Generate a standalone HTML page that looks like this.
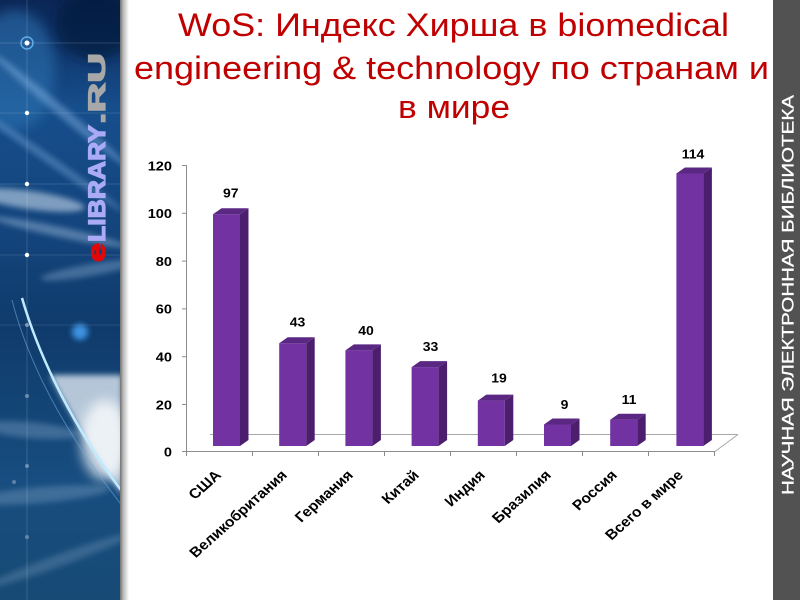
<!DOCTYPE html>
<html>
<head>
<meta charset="utf-8">
<style>
  html,body{margin:0;padding:0;background:#fff;}
  body{width:800px;height:600px;overflow:hidden;}
  svg{display:block;}
  text{font-family:"Liberation Sans","Noto Sans CJK SC",sans-serif;}
</style>
</head>
<body>
<svg width="800" height="600" viewBox="0 0 800 600" xmlns="http://www.w3.org/2000/svg">
  <defs>
    <linearGradient id="bg" x1="0" y1="0" x2="0" y2="1">
      <stop offset="0" stop-color="#0b2656"/>
      <stop offset="0.18" stop-color="#164e8c"/>
      <stop offset="0.35" stop-color="#14467f"/>
      <stop offset="0.55" stop-color="#0f3b6c"/>
      <stop offset="0.8" stop-color="#174d80"/>
      <stop offset="1" stop-color="#174a74"/>
    </linearGradient>
    <linearGradient id="shadow" x1="0" y1="0" x2="1" y2="0">
      <stop offset="0" stop-color="#707070"/>
      <stop offset="0.35" stop-color="#b8b8b8"/>
      <stop offset="1" stop-color="#ffffff"/>
    </linearGradient>
    <filter id="blur6" x="-50%" y="-50%" width="200%" height="200%"><feGaussianBlur stdDeviation="6"/></filter>
    <filter id="blur3" x="-50%" y="-50%" width="200%" height="200%"><feGaussianBlur stdDeviation="3"/></filter>
    <clipPath id="panel"><rect x="0" y="0" width="120" height="600"/></clipPath>
  </defs>

  <!-- Left decorative panel -->
  <g clip-path="url(#panel)">
    <rect x="0" y="0" width="120" height="600" fill="url(#bg)"/>
    <ellipse cx="15" cy="70" rx="40" ry="60" fill="#2f74b4" opacity="0.55" filter="url(#blur6)"/>
    <ellipse cx="95" cy="25" rx="40" ry="35" fill="#061634" opacity="0.6" filter="url(#blur6)"/>
    <ellipse cx="60" cy="110" rx="90" ry="5" fill="#a8d4ff" opacity="0.35" transform="rotate(40 60 110)" filter="url(#blur3)"/>
    <ellipse cx="50" cy="160" rx="90" ry="4" fill="#a8d4ff" opacity="0.3" transform="rotate(35 50 160)" filter="url(#blur3)"/>
    <ellipse cx="30" cy="200" rx="55" ry="9" fill="#e8f4ff" opacity="0.5" transform="rotate(8 30 200)" filter="url(#blur3)"/>
    <ellipse cx="60" cy="232" rx="70" ry="5" fill="#cfe6ff" opacity="0.35" transform="rotate(12 60 232)" filter="url(#blur3)"/>
    <ellipse cx="90" cy="270" rx="50" ry="6" fill="#b8d8f5" opacity="0.3" transform="rotate(-10 90 270)" filter="url(#blur3)"/>
    <circle cx="80" cy="332" r="8" fill="#4aa8ff" opacity="0.8" filter="url(#blur3)"/>
    <path d="M 50 375 C 72 418, 95 455, 122 495 L 122 375 Z" fill="#d2deea" opacity="0.85" filter="url(#blur3)"/>
    <ellipse cx="105" cy="440" rx="24" ry="40" fill="#ffffff" opacity="0.75" filter="url(#blur6)"/>
    <ellipse cx="30" cy="430" rx="50" ry="8" fill="#8fb0d0" opacity="0.35" transform="rotate(5 30 430)" filter="url(#blur3)"/>
    <ellipse cx="40" cy="495" rx="70" ry="8" fill="#9cbad8" opacity="0.3" transform="rotate(-5 40 495)" filter="url(#blur3)"/>
    <ellipse cx="60" cy="560" rx="80" ry="6" fill="#9cbad8" opacity="0.25" transform="rotate(-20 60 560)" filter="url(#blur3)"/>
    <path d="M 22 298 C 40 360, 75 430, 124 494" fill="none" stroke="#bfeaff" stroke-width="2.5"/>
    <path d="M 12 300 C 30 370, 70 440, 124 508" fill="none" stroke="#6aa8d8" stroke-width="1" opacity="0.6"/>
    <line x1="27" y1="0" x2="27" y2="600" stroke="#ffffff" stroke-opacity="0.15" stroke-width="1"/>
    <line x1="0" y1="43" x2="120" y2="43" stroke="#ffffff" stroke-opacity="0.15"/>
    <line x1="0" y1="113" x2="120" y2="113" stroke="#ffffff" stroke-opacity="0.12"/>
    <line x1="0" y1="184" x2="120" y2="184" stroke="#ffffff" stroke-opacity="0.12"/>
    <line x1="0" y1="255" x2="120" y2="255" stroke="#ffffff" stroke-opacity="0.12"/>
    <line x1="0" y1="325" x2="120" y2="325" stroke="#ffffff" stroke-opacity="0.1"/>
    <circle cx="27" cy="43" r="6" fill="none" stroke="#6fc0ff" stroke-width="1.5" opacity="0.8"/>
    <circle cx="27" cy="43" r="2.5" fill="#ffffff"/>
    <circle cx="27" cy="113" r="2.2" fill="#ffffff"/>
    <circle cx="27" cy="184" r="2.2" fill="#ffffff"/>
    <circle cx="27" cy="255" r="2.2" fill="#ffffff"/>
    <circle cx="27" cy="325" r="2" fill="#9fb8d0" opacity="0.7"/>
    <circle cx="27" cy="396" r="2" fill="#9fb8d0" opacity="0.6"/>
    <circle cx="27" cy="466" r="2" fill="#9fb8d0" opacity="0.6"/>
    <circle cx="14" cy="482" r="2" fill="#9fb8d0" opacity="0.5"/>
    <circle cx="27" cy="537" r="2" fill="#9fb8d0" opacity="0.5"/>
    <!-- logo -->
    <text transform="translate(105,262) rotate(-90)" font-size="25" font-weight="bold" fill="#e00808" stroke="#e00808" stroke-width="1.2" textLength="19" lengthAdjust="spacingAndGlyphs">e</text>
    <text transform="translate(105,242) rotate(-90)" font-size="24" font-weight="bold" fill="#aaaaf6" stroke="#aaaaf6" stroke-width="1.2" textLength="117" lengthAdjust="spacingAndGlyphs">LIBRARY</text>
    <text transform="translate(105,124) rotate(-90)" font-size="24" font-weight="bold" fill="#a8a8a8" stroke="#a8a8a8" stroke-width="1.2" textLength="71" lengthAdjust="spacingAndGlyphs">.RU</text>
  </g>
  <rect x="120" y="0" width="9" height="600" fill="url(#shadow)"/>

  <!-- right strip -->
  <rect x="773" y="0" width="27" height="600" fill="#525252"/>
  <text transform="translate(793.5,495) rotate(-90)" font-size="16.5" fill="#ffffff" stroke="#ffffff" stroke-width="0.3" textLength="400" lengthAdjust="spacingAndGlyphs">НАУЧНАЯ  ЭЛЕКТРОННАЯ  БИБЛИОТЕКА</text>

  <!-- Title -->
  <g fill="#c00000" font-size="32">
    <text x="178" y="36" textLength="551" lengthAdjust="spacingAndGlyphs">WoS: Индекс Хирша в biomedical</text>
    <text x="134" y="79" textLength="635" lengthAdjust="spacingAndGlyphs">engineering &amp; technology по странам и</text>
    <text x="398" y="118" textLength="112" lengthAdjust="spacingAndGlyphs">в мире</text>
  </g>

  <!-- Axes -->
  <g stroke="#8c8c8c" stroke-width="1" fill="none">
    <line x1="210" y1="434.5" x2="738" y2="434.5" stroke="#a8a8a8"/>
    <line x1="715" y1="451.5" x2="738" y2="434.5" stroke="#a8a8a8"/>
    <line x1="186.5" y1="165" x2="186.5" y2="451.5"/>
    <line x1="186.5" y1="451.5" x2="715" y2="451.5"/>
    <line x1="182" y1="165.5" x2="186.5" y2="165.5"/>
    <line x1="182" y1="213.3" x2="186.5" y2="213.3"/>
    <line x1="182" y1="261.1" x2="186.5" y2="261.1"/>
    <line x1="182" y1="308.9" x2="186.5" y2="308.9"/>
    <line x1="182" y1="356.7" x2="186.5" y2="356.7"/>
    <line x1="182" y1="404.5" x2="186.5" y2="404.5"/>
    <line x1="182" y1="451.5" x2="186.5" y2="451.5"/>
    <line x1="186.5" y1="451.5" x2="186.5" y2="456"/>
    <line x1="252.5" y1="451.5" x2="252.5" y2="456"/>
    <line x1="318.5" y1="451.5" x2="318.5" y2="456"/>
    <line x1="384.5" y1="451.5" x2="384.5" y2="456"/>
    <line x1="450.5" y1="451.5" x2="450.5" y2="456"/>
    <line x1="516.5" y1="451.5" x2="516.5" y2="456"/>
    <line x1="582.5" y1="451.5" x2="582.5" y2="456"/>
    <line x1="648.5" y1="451.5" x2="648.5" y2="456"/>
    <line x1="714.5" y1="451.5" x2="714.5" y2="456"/>
  </g>

  <!-- Y tick labels -->
  <g font-size="13" font-weight="bold" fill="#000" text-anchor="end">
    <text transform="translate(172,170.3) scale(1.12,1)">120</text>
    <text transform="translate(172,218.1) scale(1.12,1)">100</text>
    <text transform="translate(172,265.9) scale(1.12,1)">80</text>
    <text transform="translate(172,313.7) scale(1.12,1)">60</text>
    <text transform="translate(172,361.5) scale(1.12,1)">40</text>
    <text transform="translate(172,409.3) scale(1.12,1)">20</text>
    <text transform="translate(172,456.3) scale(1.12,1)">0</text>
  </g>

  <!-- Bars -->
  <g>
    <rect x="213" y="214.2" width="27" height="231.8" fill="#7332a2"/>
    <polygon points="240,214.2 248.5,208.2 248.5,440 240,446" fill="#4b1f6e"/>
    <polygon points="213,214.2 221.5,208.2 248.5,208.2 240,214.2" fill="#5a2883"/>
    <rect x="279.2" y="343.2" width="27" height="102.8" fill="#7332a2"/>
    <polygon points="306.2,343.2 314.7,337.2 314.7,440 306.2,446" fill="#4b1f6e"/>
    <polygon points="279.2,343.2 287.7,337.2 314.7,337.2 306.2,343.2" fill="#5a2883"/>
    <rect x="345.4" y="350.4" width="27" height="95.6" fill="#7332a2"/>
    <polygon points="372.4,350.4 380.9,344.4 380.9,440 372.4,446" fill="#4b1f6e"/>
    <polygon points="345.4,350.4 353.9,344.4 380.9,344.4 372.4,350.4" fill="#5a2883"/>
    <rect x="411.6" y="367.1" width="27" height="78.9" fill="#7332a2"/>
    <polygon points="438.6,367.1 447.1,361.1 447.1,440 438.6,446" fill="#4b1f6e"/>
    <polygon points="411.6,367.1 420.1,361.1 447.1,361.1 438.6,367.1" fill="#5a2883"/>
    <rect x="477.8" y="400.6" width="27" height="45.4" fill="#7332a2"/>
    <polygon points="504.8,400.6 513.3,394.6 513.3,440 504.8,446" fill="#4b1f6e"/>
    <polygon points="477.8,400.6 486.3,394.6 513.3,394.6 504.8,400.6" fill="#5a2883"/>
    <rect x="544" y="424.5" width="27" height="21.5" fill="#7332a2"/>
    <polygon points="571,424.5 579.5,418.5 579.5,440 571,446" fill="#4b1f6e"/>
    <polygon points="544,424.5 552.5,418.5 579.5,418.5 571,424.5" fill="#5a2883"/>
    <rect x="610.2" y="419.7" width="27" height="26.3" fill="#7332a2"/>
    <polygon points="637.2,419.7 645.7,413.7 645.7,440 637.2,446" fill="#4b1f6e"/>
    <polygon points="610.2,419.7 618.7,413.7 645.7,413.7 637.2,419.7" fill="#5a2883"/>
    <rect x="676.4" y="173.5" width="27" height="272.5" fill="#7332a2"/>
    <polygon points="703.4,173.5 711.9,167.5 711.9,440 703.4,446" fill="#4b1f6e"/>
    <polygon points="676.4,173.5 684.9,167.5 711.9,167.5 703.4,173.5" fill="#5a2883"/>
  </g>

  <!-- Data labels -->
  <g font-size="12.5" font-weight="bold" fill="#000" text-anchor="middle">
    <text transform="translate(230.8,197.5) scale(1.12,1)">97</text>
    <text transform="translate(297.5,326.5) scale(1.12,1)">43</text>
    <text transform="translate(366,335) scale(1.12,1)">40</text>
    <text transform="translate(430.5,351) scale(1.12,1)">33</text>
    <text transform="translate(499,382.5) scale(1.12,1)">19</text>
    <text transform="translate(564.5,409) scale(1.12,1)">9</text>
    <text transform="translate(629,404) scale(1.12,1)">11</text>
    <text transform="translate(693,158.5) scale(1.12,1)">114</text>
  </g>

  <!-- X category labels -->
  <g font-size="14" font-weight="bold" fill="#000" text-anchor="end">
    <text transform="translate(222,476) scale(1.12,1) rotate(-45)">США</text>
    <text transform="translate(288,476) scale(1.12,1) rotate(-45)">Великобритания</text>
    <text transform="translate(354,476) scale(1.12,1) rotate(-45)">Германия</text>
    <text transform="translate(420,476) scale(1.12,1) rotate(-45)">Китай</text>
    <text transform="translate(486,476) scale(1.12,1) rotate(-45)">Индия</text>
    <text transform="translate(552,476) scale(1.12,1) rotate(-45)">Бразилия</text>
    <text transform="translate(618,476) scale(1.12,1) rotate(-45)">Россия</text>
    <text transform="translate(684,476) scale(1.12,1) rotate(-45)">Всего в мире</text>
  </g>
</svg>
</body>
</html>
